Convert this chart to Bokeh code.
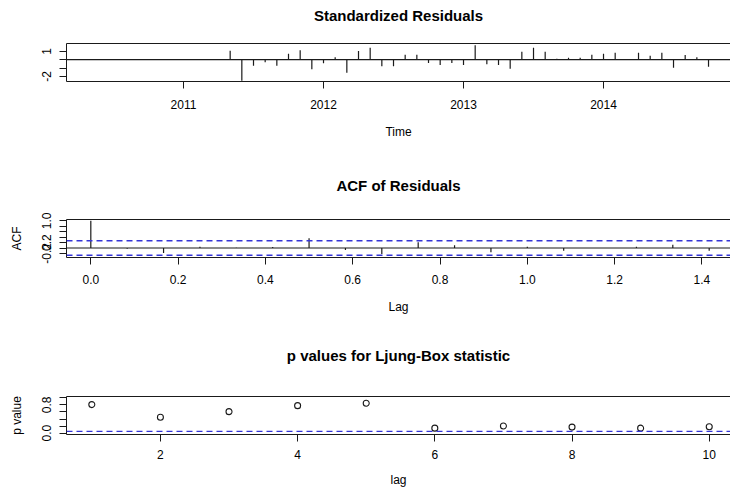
from bokeh.plotting import figure
from bokeh.layouts import column
from bokeh.models import Range1d, FixedTicker, LinearAxis, Span, ColumnDataSource
from bokeh.embed import file_html
from bokeh.resources import INLINE

# ---------------- data ----------------
start_year = 2010 + 4 / 12      # ts start (May 2010), monthly
freq = 12
residuals = [0.0, 0.0, 0.0, 0.0, 0.0, 0.0, 0.0, 0.0, 0.0, 0.0, 0.0, 0.0,
             1.08, -2.52, -0.72, -0.32, -0.72, 0.72, 1.12, -1.16, -0.44, 0.28,
             -1.56, 1.04, 1.44, -0.80, -0.80, 0.60, 0.60, -0.40, -0.64, -0.40,
             -0.64, 1.72, -0.56, -0.64, -1.08, 0.96, 1.44, 0.96, 0.12, 0.24,
             0.24, 0.60, 0.72, 0.84, 0.05, 0.84, 0.46, 0.84, -0.96, 0.56,
             0.28, -0.86]
time_ticks = [2011, 2012, 2013, 2014]

acf_values = [1.0, -0.03, -0.18, 0.05, 0.01, 0.04, 0.36, -0.07, -0.22, 0.21,
              0.10, -0.16, 0.05, -0.10, 0.0, 0.05, 0.12, -0.10]
acf_clim = 0.2667
acf_xticks = [0.0, 0.2, 0.4, 0.6, 0.8, 1.0, 1.2, 1.4]
acf_yticks = [-0.2, 0.0, 0.2, 0.4, 0.6, 0.8, 1.0]

lb_lags = [1, 2, 3, 4, 5, 6, 7, 8, 9, 10]
lb_pvalues = [0.81, 0.45, 0.61, 0.78, 0.85, 0.14, 0.20, 0.17, 0.14, 0.18]
lb_xticks = [2, 4, 6, 8, 10]
lb_yticks = [0.0, 0.2, 0.4, 0.6, 0.8, 1.0]
lb_alpha = 0.05

res_time = [start_year + i / freq for i in range(len(residuals))]
acf_lags = [k / freq for k in range(len(acf_values))]

FONT = "Liberation Sans"
INK = "#1a1a1a"
BLUE = "#3535d8"


def make_fig(top, bottom, xr, yr, title, title_gap):
    p = figure(frame_width=664, frame_height=38, output_backend="svg", toolbar_location=None,
               x_range=Range1d(*xr), y_range=Range1d(*yr),
               min_border_left=66, min_border_right=0,
               min_border_top=top, min_border_bottom=bottom)
    p.outline_line_color = None
    p.grid.visible = False
    p.background_fill_color = "white"
    p.border_fill_color = "white"
    bottom_ax = p.below[0]
    left_ax = p.left[0]
    # top edge of the box; its label carries the panel title
    top_ax = LinearAxis(ticker=FixedTicker(ticks=[]), major_tick_out=0, major_tick_in=0,
                        major_label_text_font_size="0px", axis_line_color=INK,
                        major_label_standoff=0, axis_label=title,
                        axis_label_standoff=title_gap,
                        axis_label_text_font=FONT, axis_label_text_font_size="15px",
                        axis_label_text_font_style="bold", axis_label_text_color="black")
    p.add_layout(top_ax, "above")
    return p, bottom_ax, left_ax


def style_axis(ax, ticks, labels, label, vertical=False, lab_so=9, ax_so=13):
    ax.ticker = FixedTicker(ticks=ticks)
    ax.major_label_overrides = labels
    ax.minor_tick_line_color = None
    ax.major_tick_in = 0
    ax.major_tick_out = 7
    ax.axis_line_color = INK
    ax.major_tick_line_color = INK
    ax.major_label_text_font = FONT
    ax.major_label_text_font_size = "12px"
    ax.major_label_text_color = "black"
    ax.major_label_standoff = lab_so
    if vertical:
        ax.major_label_orientation = "vertical"
    ax.axis_label = label
    ax.axis_label_text_font = FONT
    ax.axis_label_text_font_size = "12px"
    ax.axis_label_text_font_style = "normal"
    ax.axis_label_text_color = "black"
    ax.axis_label_standoff = ax_so


# ---------------- panel 1: standardized residuals ----------------
p1, b1, l1 = make_fig(43, 69, (2010.1643, 2014.907), (-2.62, 1.94),
                      "Standardized Residuals", 20)
src1 = ColumnDataSource(dict(t=res_time, r=residuals))
p1.segment(x0="t", y0=0, x1="t", y1="r", source=src1, line_color=INK, line_width=1.2)
p1.add_layout(Span(location=0, dimension="width", line_color=INK, line_width=1.2))
style_axis(b1, time_ticks, {t: str(t) for t in time_ticks}, "Time", lab_so=11)
style_axis(l1, [-2, -1, 0, 1], {-2: "-2", -1: "", 0: "", 1: "1"}, None,
           vertical=True, lab_so=8)

# ---------------- panel 2: ACF of residuals ----------------
p2, b2, l2 = make_fig(69, 57, (-0.0557, 1.4655), (-0.35, 1.05),
                      "ACF of Residuals", 26)
src2 = ColumnDataSource(dict(l=acf_lags, a=acf_values))
p2.segment(x0="l", y0=0, x1="l", y1="a", source=src2, line_color=INK, line_width=1.2)
p2.add_layout(Span(location=0, dimension="width", line_color=INK, line_width=1.2))
for c in (acf_clim, -acf_clim):
    p2.add_layout(Span(location=c, dimension="width", line_color=BLUE,
                       line_width=1.3, line_dash="6 4"))
style_axis(b2, acf_xticks, {t: f"{t:.1f}" for t in acf_xticks}, "Lag", lab_so=10)
acf_ylab = {t: "" for t in acf_yticks}
acf_ylab[-0.2] = "-0.2"
acf_ylab[0.2] = "0.2"
acf_ylab[1.0] = "1.0"
style_axis(l2, acf_yticks, acf_ylab, "ACF", vertical=True, lab_so=8, ax_so=16)

# ---------------- panel 3: Ljung-Box p-values ----------------
p3, b3, l3 = make_fig(80, 63, (0.6312, 10.31), (-0.04, 1.04),
                      "p values for Ljung-Box statistic", 33)
p3.scatter(lb_lags, lb_pvalues, marker="circle", size=6, fill_color=None,
           line_color=INK, line_width=1.1)
p3.add_layout(Span(location=lb_alpha, dimension="width", line_color=BLUE,
                   line_width=1.3, line_dash="6 4"))
style_axis(b3, lb_xticks, {t: str(t) for t in lb_xticks}, "lag", lab_so=8, ax_so=11)
lb_ylab = {t: "" for t in lb_yticks}
lb_ylab[0.0] = "0.0"
lb_ylab[0.8] = "0.8"
style_axis(l3, lb_yticks, lb_ylab, "p value", vertical=True, lab_so=8, ax_so=16)

layout = column(p1, p2, p3, spacing=0)
open("out.html", "w").write(file_html(layout, INLINE))
